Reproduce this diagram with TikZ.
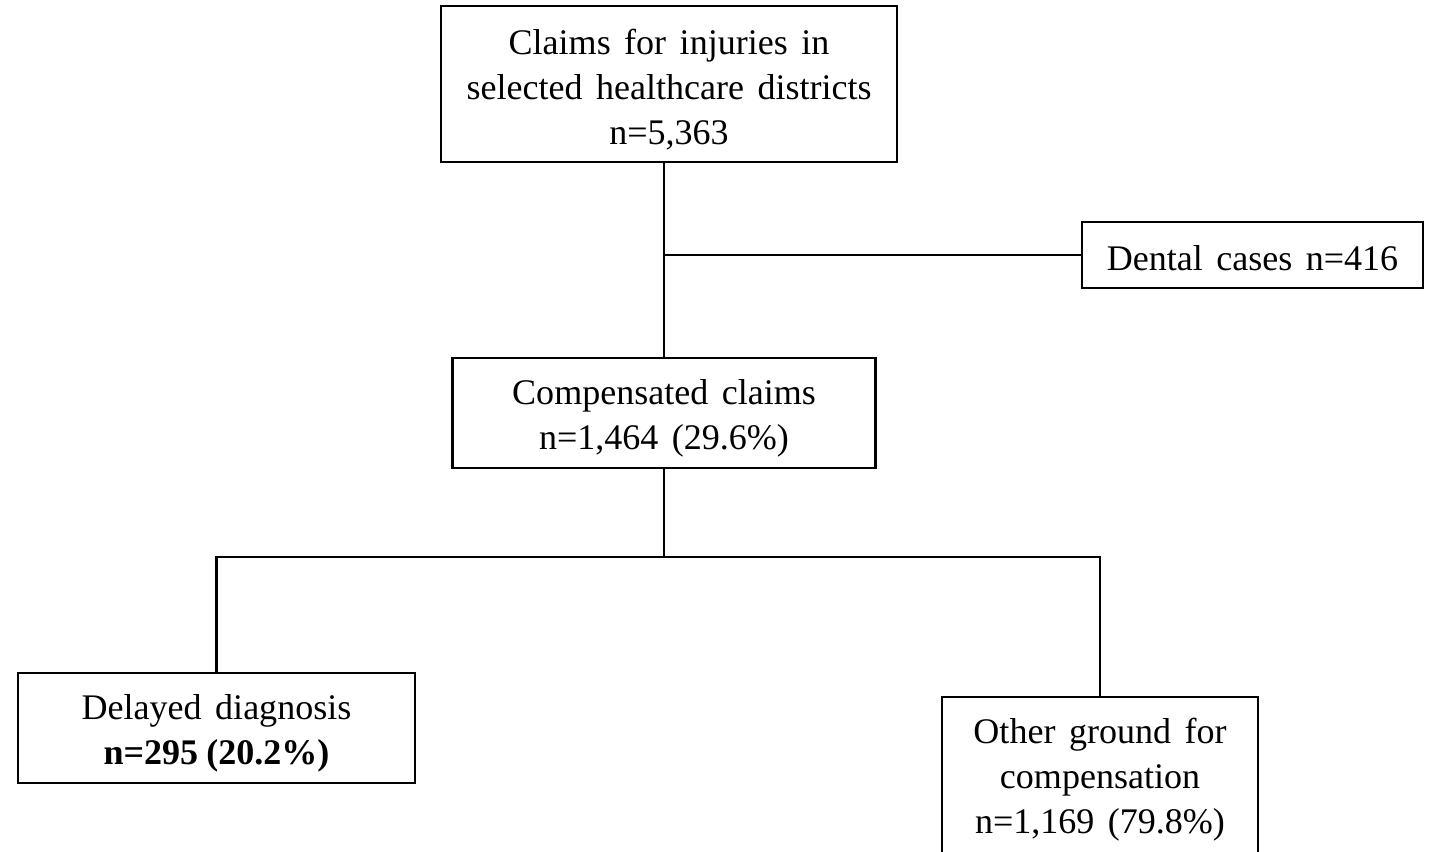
\documentclass[tikz,border=0pt]{standalone}
\usepackage{fontspec}
\setmainfont{Liberation Serif}[WordSpace=1.5,BoldFeatures={WordSpace=0.9}]
\usepackage{tikz}
\usetikzlibrary{positioning,calc}
\newcommand{\topgap}{\rule{0pt}{20.5pt}}

\begin{document}
\begin{tikzpicture}[
  x=0.02cm,y=-0.02cm,
  box/.style={draw=black,line width=1.3pt,align=center,inner sep=0pt,
              font=\fontsize{20.5}{25.6}\selectfont},
  link/.style={draw=black,line width=1.3pt}]
  \useasboundingbox (0,0) rectangle (1435,851);
  \node[box,minimum width=9.12cm,minimum height=3.12cm] (claims) at (669,84)
    {\topgap Claims for injuries in\\selected healthcare districts\\n=5,363};
  \node[box,minimum width=6.82cm,minimum height=1.32cm] (dental) at (1252.5,255)
    {\rule{0pt}{18pt}Dental cases n=416};
  \node[box,minimum width=8.46cm,minimum height=2.2cm] (comp) at (664,413)
    {\topgap Compensated claims\\n=1,464 (29.6\%)};
  \node[box,minimum width=7.94cm,minimum height=2.2cm] (delayed) at (216.5,728)
    {\topgap Delayed diagnosis\\\textbf{n=295 (20.2\%)}};
  \node[box,minimum width=6.32cm,minimum height=3.2cm] (other) at (1100,777)
    {\rule{0pt}{17pt}Other ground for\\compensation\\n=1,169 (79.8\%)};
  \coordinate (split) at (664,557);
  \draw[link] (claims.south -| comp.north) -- (comp.north);
  \draw[link] (comp.north |- dental.west) -- (dental.west);
  \draw[link] (comp.south) -- (split);
  \draw[link] (delayed.north) |- (split) -| (other.north);
\end{tikzpicture}
\end{document}
